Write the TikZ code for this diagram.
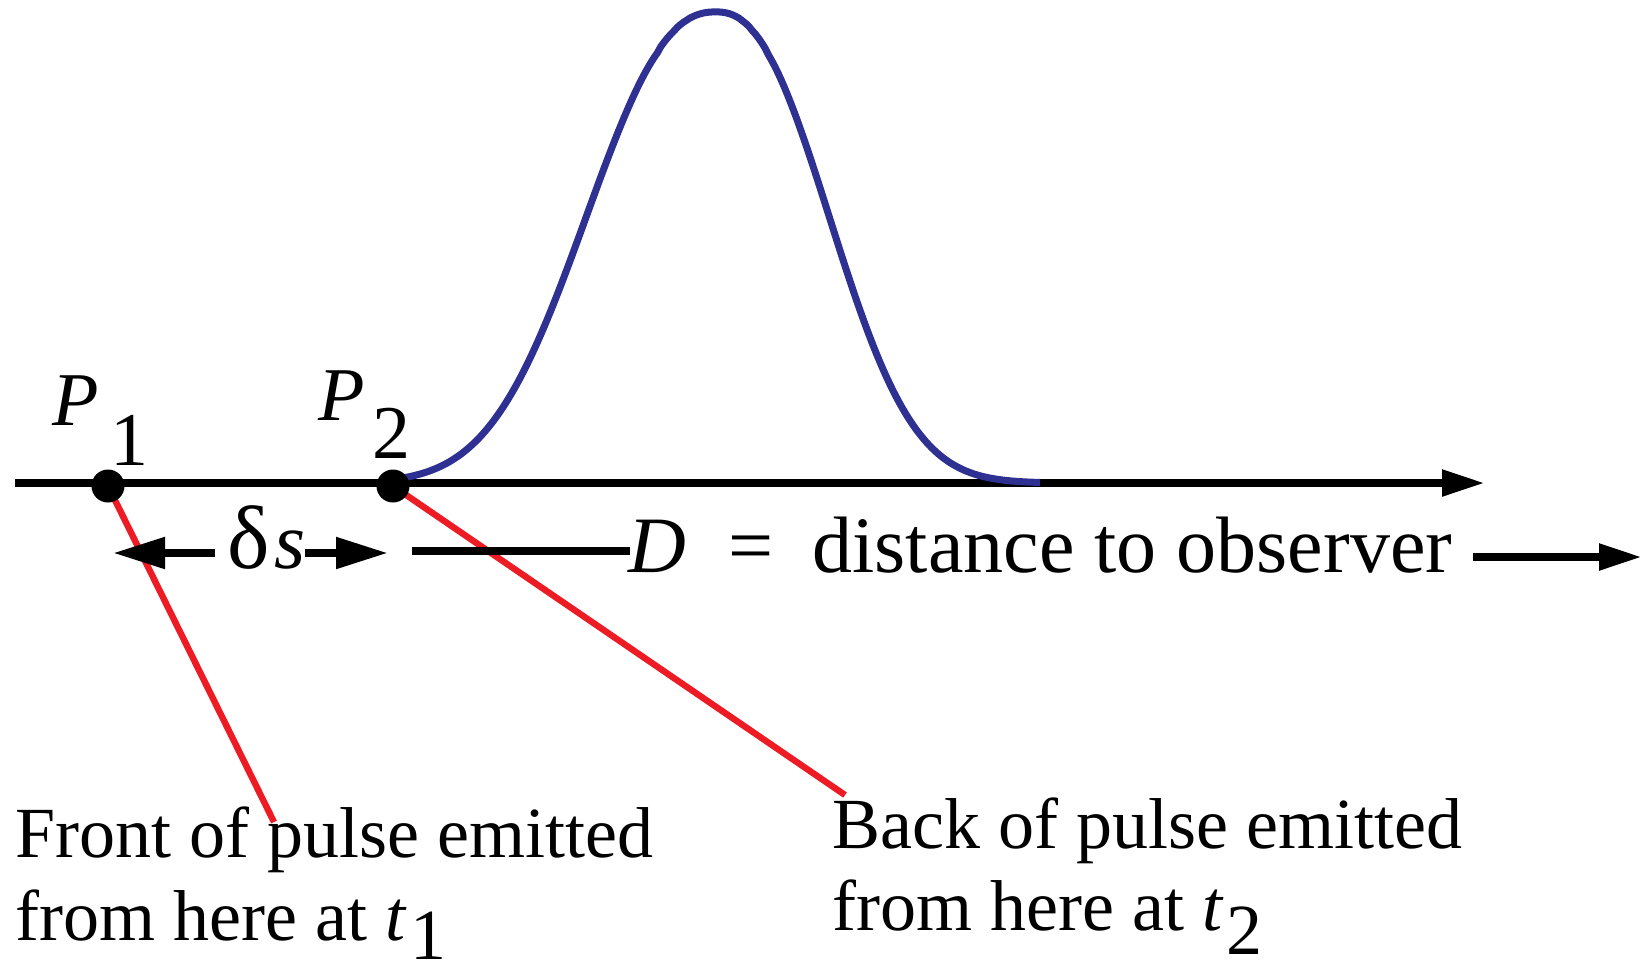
\documentclass[tikz,border=0pt]{standalone}
\usepackage{fontspec}
\setmainfont{Liberation Serif}
\usetikzlibrary{arrows.meta,backgrounds}
\definecolor{pulseblue}{RGB}{46,49,146}
\definecolor{linered}{RGB}{237,28,36}
\begin{document}
\begin{tikzpicture}[x=0.5pt,y=-0.5pt,
  axisline/.style={line width=4.1pt,black},
  bigtip/.style={-{Triangle[length=21.5pt,width=12.5pt]}},
  dimtip/.style={-{Triangle[length=26pt,width=15pt]}},
  redline/.style={line width=3.2pt,linered},
  pulseline/.style={line width=3.5pt,pulseblue,line join=round},
  dotnode/.style={circle,fill=black,minimum size=16.5pt,inner sep=0pt},
  lbl/.style={anchor=base west,inner sep=0pt,font=\fontsize{36}{44}\selectfont},
  midlbl/.style={anchor=base west,inner sep=0pt,font=\fontsize{40}{48}\selectfont},
  plbl/.style={anchor=base west,inner sep=0pt,font=\fontsize{38}{46}\selectfont}]
\useasboundingbox (0,0) rectangle (1642,969);
% dots
\node[dotnode] (p1) at (108,486) {};
\node[dotnode] (p2) at (393,486) {};
% coordinates
\coordinate (axL) at (15,483);
\coordinate (axR) at (1485,483);
\coordinate (e1) at (274,822);
\coordinate (e2) at (845,795);
\coordinate (dsA) at (215,553);
\coordinate (dsAt) at (113,553);
\coordinate (dsB) at (305,553);
\coordinate (dsBt) at (388,553);
\coordinate (dA) at (412,551);
\coordinate (dB) at (630,551);
\coordinate (oA) at (1473,557);
\coordinate (oB) at (1642,557);
\begin{scope}[on background layer]
\draw[axisline,bigtip] (axL) -- (axR);
\draw[pulseline]
  plot[domain=395:716,samples=100] (\x,{483-471*exp(-((((\x-716)/164.8)^2+0.00001)^1.175))})
  -- plot[domain=716:1040,samples=100] (\x,{483-471*exp(-((((\x-716)/143.8)^2+0.00001)^1.175))});
\draw[redline] (p1.center) -- (e1);
\draw[redline] (p2.center) -- (e2);
\end{scope}
% middle row
\draw[axisline,dimtip] (dsA) -- (dsAt);
\draw[axisline,dimtip] (dsB) -- (dsBt);
\draw[axisline] (dA) -- (dB);
\draw[axisline,bigtip] (oA) -- (oB);
\node[midlbl] (ds) at (227,568) {{\fontsize{45}{48}\selectfont δ}\hspace{0.06em}\textit{s}};
\node[midlbl] (D) at (628,572) {\textit{D}};
\node[midlbl,anchor=base] (eq) at (751,572) {=};
\node[midlbl] (dist) at (812,572) {distance to observer};
% P labels
\node[plbl] (P1) at (52,425) {\textit{P}};
\node[plbl] (P1s) at (110,465) {1};
\node[plbl] (P2) at (318,420) {\textit{P}};
\node[plbl] (P2s) at (372,458) {2};
% bottom texts
\node[lbl] (f1) at (15,857) {Front of pulse emitted};
\node[lbl] (f2) at (15,940) {from here at \textit{t}\hspace{0.06em}\raisebox{-0.27em}{1}};
\node[lbl] (b1) at (832,848) {Back of pulse emitted};
\node[lbl] (b2) at (832,930) {from here at \textit{t}\hspace{0.04em}\raisebox{-0.34em}{2}};
\end{tikzpicture}
\end{document}
